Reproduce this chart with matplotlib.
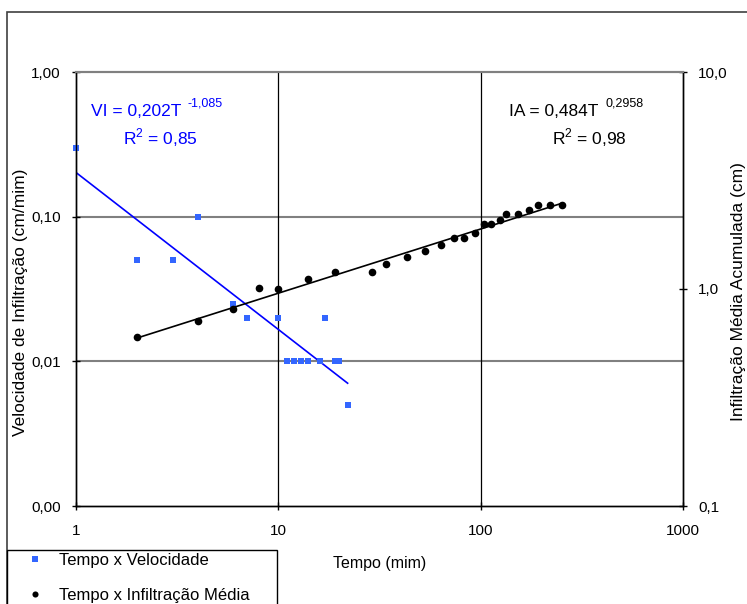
import numpy as np
import matplotlib
matplotlib.use('Agg')
import matplotlib.pyplot as plt
from matplotlib.patches import Rectangle
from matplotlib.ticker import FixedLocator, FixedFormatter, NullLocator

plt.rcParams['font.family'] = ['Liberation Sans', 'DejaVu Sans']
plt.rcParams['mathtext.fontset'] = 'custom'
plt.rcParams['mathtext.rm'] = 'Liberation Sans'

# dados
vel_t = [1, 2, 3, 4, 6, 7, 10, 11, 12, 13, 14, 16, 17, 19, 20, 22]
vel_v = [0.30, 0.05, 0.05, 0.10, 0.025, 0.02, 0.02, 0.01, 0.01, 0.01, 0.01,
         0.01, 0.02, 0.01, 0.01, 0.005]

inf_t = [2, 4, 6, 8, 10, 14, 19, 29, 34, 43, 53, 64, 74, 83, 94, 104, 113,
         124, 133, 153, 173, 192, 220, 253]
inf_v = [0.60, 0.71, 0.81, 1.01, 1.00, 1.11, 1.20, 1.20, 1.30, 1.41, 1.50,
         1.60, 1.71, 1.71, 1.82, 2.00, 2.00, 2.09, 2.21, 2.21, 2.31, 2.43,
         2.43, 2.43]

# linhas de tendencia (potencia)
VI_A, VI_B = 0.202, -1.085
IA_A, IA_B = 0.484, 0.2958

W, H = 747, 604
fig = plt.figure(figsize=(W / 100, H / 100), dpi=100)
ax = fig.add_axes([76 / W, 1 - 506 / H, (683 - 76) / W, (506 - 72) / H])
ax2 = ax.twinx()

ax.set_xscale('log')
ax.set_yscale('log')
ax.set_xlim(1, 1000)
ax.set_ylim(0.001, 1)
ax2.set_yscale('log')
ax2.set_ylim(0.1, 10)

ax.xaxis.set_major_locator(FixedLocator([1, 10, 100, 1000]))
ax.xaxis.set_major_formatter(FixedFormatter(['1', '10', '100', '1000']))
ax.xaxis.set_minor_locator(NullLocator())
ax.yaxis.set_major_locator(FixedLocator([0.001, 0.01, 0.1, 1]))
ax.yaxis.set_major_formatter(FixedFormatter(['0,00', '0,01', '0,10', '1,00']))
ax.yaxis.set_minor_locator(NullLocator())
ax2.yaxis.set_major_locator(FixedLocator([0.1, 1, 10]))
ax2.yaxis.set_major_formatter(FixedFormatter(['0,1', '1,0', '10,0']))
ax2.yaxis.set_minor_locator(NullLocator())

ax.tick_params(axis='both', direction='inout', length=6, width=1,
               labelsize=11, colors='black')
ax.tick_params(axis='y', pad=8)
ax.tick_params(axis='x', pad=10)
ax2.tick_params(axis='y', direction='inout', length=6, width=1,
                labelsize=11, pad=8)

for a in (ax, ax2):
    for s in ('left', 'bottom', 'right'):
        a.spines[s].set_color('black')
        a.spines[s].set_linewidth(1)
    a.spines['top'].set_color('#808080')
    a.spines['top'].set_linewidth(1.5)

for yv in [0.01, 0.1]:
    ax.axhline(yv, color='#808080', lw=1.5, zorder=0)
for xv in [10, 100]:
    ax.axvline(xv, color='black', lw=0.9, zorder=0)

t1 = np.array(vel_t, dtype=float)
ax.plot(t1, VI_A * t1 ** VI_B, color='#0000ff', lw=1.2, zorder=2)
ln1, = ax.plot(vel_t, vel_v, 's', color='#3366ff', ms=5, mew=0, zorder=3,
               clip_on=False, label='Tempo x Velocidade')

t2 = np.array(inf_t, dtype=float)
ax2.plot(t2, IA_A * t2 ** IA_B, color='black', lw=1.2, zorder=2)
ln2, = ax2.plot(inf_t, inf_v, 'o', color='black', ms=5.5, mew=0, zorder=3,
                label='Tempo x Infiltração Média')

ax.set_xlabel('Tempo (mim)', fontsize=11.5, labelpad=13)
fig.text(21 / W, 1 - 302 / H, 'Velocidade de Infiltração (cm/mim)',
         rotation=90, ha='center', va='center', fontsize=12.5)
fig.text(739 / W, 1 - 292 / H, 'Infiltração Média Acumulada (cm)',
         rotation=90, ha='center', va='center', fontsize=12.5)

# equacoes
fig.text(181 / W, 1 - 111 / H, 'VI = 0,202T', color='#0000ff',
         ha='right', va='center', fontsize=12.5)
fig.text(187 / W, 1 - 104 / H, '-1,085', color='#0000ff',
         ha='left', va='center', fontsize=9)
fig.text(160 / W, 1 - 138 / H, r'R$^{\mathregular{2}}$ = 0,85',
         color='#0000ff', ha='center', va='center', fontsize=12.5)
fig.text(598 / W, 1 - 111 / H, 'IA = 0,484T', color='black',
         ha='right', va='center', fontsize=12.5)
fig.text(606 / W, 1 - 103 / H, '0,2958', color='black',
         ha='left', va='center', fontsize=9)
fig.text(589 / W, 1 - 138 / H, r'R$^{\mathregular{2}}$ = 0,98',
         color='black', ha='center', va='center', fontsize=12.5)

# moldura do grafico e da legenda
fig.patches.append(Rectangle((7 / W, -0.1), 2, 1.1 - 12 / H,
                             transform=fig.transFigure, fill=False,
                             ec='#404040', lw=1.2))
fig.patches.append(Rectangle((7 / W, -0.1), 270 / W, 0.1 + 1 - 550 / H,
                             transform=fig.transFigure, fill=False,
                             ec='black', lw=1))
fig.legend([ln1, ln2], [ln1.get_label(), ln2.get_label()],
           loc='upper left', bbox_to_anchor=(27 / W, 1 - 553 / H),
           bbox_transform=fig.transFigure, frameon=False, fontsize=12,
           labelspacing=1.2, handlelength=1.0, handletextpad=0.95,
           borderpad=0, borderaxespad=0, markerscale=0.8)

fig.savefig('out.png', dpi=100)
